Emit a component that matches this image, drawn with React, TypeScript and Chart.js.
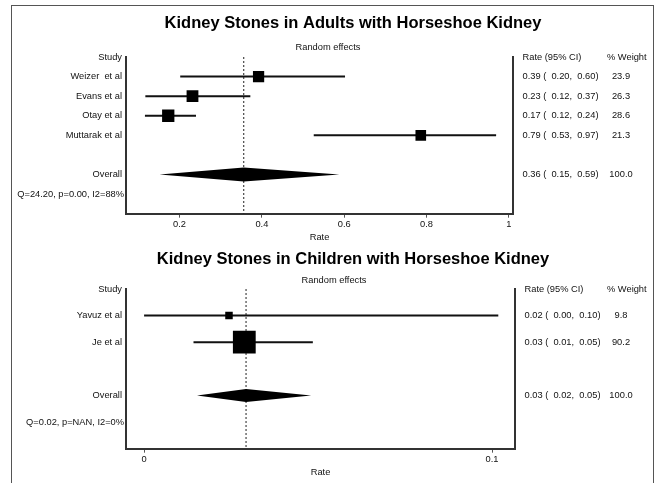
import { useEffect, useRef } from 'react';
import { Chart, registerables } from 'chart.js';

Chart.register(...registerables);

const FONT = "'Liberation Sans', Arial, Helvetica, sans-serif";

// ---- Adults panel data ----
const adultTitle = 'Kidney Stones in Adults with Horseshoe Kidney';
const adultStudies = ['Weizer  et al', 'Evans et al', 'Otay et al', 'Muttarak et al'];
const adultRates = [0.392, 0.2315, 0.1726, 0.786];
const adultLower = [0.2017, 0.117, 0.116, 0.526];
const adultUpper = [0.602, 0.372, 0.24, 0.969];
const adultWeights = [23.9, 26.3, 28.6, 21.3];
const adultOverall = [0.356, 0.1515, 0.588]; // rate, lower, upper
const adultOverallWeight = 100.0;
const adultHet = 'Q=24.20, p=0.00, I2=88%';
const adultTicks = [0.2, 0.4, 0.6, 0.8, 1];

// ---- Children panel data ----
const childTitle = 'Kidney Stones in Children with Horseshoe Kidney';
const childStudies = ['Yavuz et al', 'Je et al'];
const childRates = [0.0244, 0.0288];
const childLower = [0.0, 0.0142];
const childUpper = [0.1018, 0.0485];
const childWeights = [9.8, 90.2];
const childOverall = [0.0293, 0.0152, 0.048];
const childOverallWeight = 100.0;
const childHet = 'Q=0.02, p=NAN, I2=0%';
const childTicks = [0, 0.1];

type Panel = {
  title: string;
  studies: string[];
  rates: number[];
  lower: number[];
  upper: number[];
  weights: number[];
  overall: number[];
  overallWeight: number;
  het: string;
  ticks: number[];
  // layout
  top: number;
  height: number;
  padTop: number;
  padLeft: number;
  padRight: number;
  xMin: number;
  xMax: number;
  titleX: number;
  titleY: number;
  subX: number;
  subY: number;
  sq: number;
  diamondH: number;
  weightX: number;
  weightHeadX: number;
};

const adultPanel: Panel = {
  title: adultTitle,
  studies: adultStudies,
  rates: adultRates,
  lower: adultLower,
  upper: adultUpper,
  weights: adultWeights,
  overall: adultOverall,
  overallWeight: adultOverallWeight,
  het: adultHet,
  ticks: adultTicks,
  top: 0,
  height: 243,
  padTop: 57,
  padLeft: 126,
  padRight: 146,
  xMin: 0.07,
  xMax: 1.01,
  titleX: 353,
  titleY: 23,
  subX: 328,
  subY: 47,
  sq: 2.3,
  diamondH: 7,
  weightX: 621,
  weightHeadX: 607,
};

const childPanel: Panel = {
  title: childTitle,
  studies: childStudies,
  rates: childRates,
  lower: childLower,
  upper: childUpper,
  weights: childWeights,
  overall: childOverall,
  overallWeight: childOverallWeight,
  het: childHet,
  ticks: childTicks,
  top: 244,
  height: 234,
  padTop: 45,
  padLeft: 126,
  padRight: 144,
  xMin: -0.0052,
  xMax: 0.1066,
  titleX: 353,
  titleY: 15,
  subX: 334,
  subY: 36,
  sq: 2.4,
  diamondH: 6.5,
  weightX: 621,
  weightHeadX: 607,
};

const f2 = (v: number) => v.toFixed(2);

function makePlugin(p: Panel) {
  const n = p.studies.length;
  const overallRow = n + 2;
  const hetRow = n + 3;
  return {
    id: 'forest',
    afterDatasetsDraw(chart: any) {
      const { ctx, scales } = chart;
      const x = scales.x;
      const y = scales.y;
      const [est, lo, hi] = p.overall;
      const yc = y.getPixelForValue(overallRow);
      ctx.save();
      ctx.beginPath();
      ctx.moveTo(x.getPixelForValue(lo), yc);
      ctx.lineTo(x.getPixelForValue(est), yc - p.diamondH);
      ctx.lineTo(x.getPixelForValue(hi), yc);
      ctx.lineTo(x.getPixelForValue(est), yc + p.diamondH);
      ctx.closePath();
      ctx.fillStyle = '#000';
      ctx.fill();
      ctx.restore();
    },
    afterDraw(chart: any) {
      const { ctx, chartArea, scales } = chart;
      const y = scales.y;
      ctx.save();
      // titles
      ctx.fillStyle = '#000';
      ctx.textAlign = 'center';
      ctx.textBaseline = 'middle';
      ctx.font = `bold 16.5px ${FONT}`;
      ctx.fillText(p.title, p.titleX, p.titleY);
      ctx.fillStyle = '#111';
      ctx.font = `9.3px ${FONT}`;
      ctx.fillText('Random effects', p.subX, p.subY);

      const labelX = chartArea.left - 4;
      const rateX = chartArea.right + 9.5;
      // left column
      ctx.textAlign = 'right';
      ctx.fillText('Study', labelX, y.getPixelForValue(0));
      p.studies.forEach((s, i) => ctx.fillText(s, labelX, y.getPixelForValue(i + 1)));
      ctx.fillText('Overall', labelX, y.getPixelForValue(overallRow));
      ctx.fillText(p.het, labelX + 2, y.getPixelForValue(hetRow));
      // right columns
      ctx.textAlign = 'left';
      ctx.fillText('Rate (95% CI)', rateX, y.getPixelForValue(0));
      ctx.fillText('% Weight', p.weightHeadX, y.getPixelForValue(0));
      p.studies.forEach((_, i) => {
        const yy = y.getPixelForValue(i + 1);
        ctx.textAlign = 'left';
        ctx.fillText(`${f2(p.rates[i])} (  ${f2(p.lower[i])},  ${f2(p.upper[i])})`, rateX, yy);
        ctx.textAlign = 'center';
        ctx.fillText(p.weights[i].toFixed(1), p.weightX, yy);
      });
      const yo = y.getPixelForValue(overallRow);
      ctx.textAlign = 'left';
      ctx.fillText(`${f2(p.overall[0])} (  ${f2(p.overall[1])},  ${f2(p.overall[2])})`, rateX, yo);
      ctx.textAlign = 'center';
      ctx.fillText(p.overallWeight.toFixed(1), p.weightX, yo);
      ctx.restore();
    },
  };
}

function makeConfig(p: Panel): any {
  const n = p.studies.length;
  const yMax = n + 4;
  const tickFont = { family: FONT, size: 9.3 };
  const radii = p.weights.map((w) => (p.sq * Math.sqrt(w)) / Math.SQRT2);
  return {
    type: 'scatter',
    data: {
      datasets: [
        {
          label: 'Studies',
          data: p.studies.map((_, i) => ({ x: p.rates[i], y: i + 1 })),
          pointStyle: 'rect',
          pointRadius: radii,
          pointHoverRadius: radii,
          backgroundColor: '#000',
          borderWidth: 0,
          showLine: false,
          order: 0,
        },
        ...p.studies.map((s, i) => ({
          label: s,
          data: [
            { x: p.lower[i], y: i + 1 },
            { x: p.upper[i], y: i + 1 },
          ],
          showLine: true,
          borderColor: '#111',
          borderWidth: 2,
          pointRadius: 0,
          order: 1,
        })),
        {
          label: 'Overall',
          data: [
            { x: p.overall[0], y: 0 },
            { x: p.overall[0], y: yMax },
          ],
          showLine: true,
          borderColor: '#222',
          borderWidth: 1,
          borderDash: [2, 2],
          pointRadius: 0,
          order: 2,
        },
      ],
    },
    options: {
      responsive: false,
      maintainAspectRatio: false,
      animation: false,
      events: [],
      layout: { padding: { top: p.padTop, left: p.padLeft, right: p.padRight, bottom: 0 } },
      plugins: { legend: { display: false }, tooltip: { enabled: false }, title: { display: false } },
      scales: {
        x: {
          type: 'linear',
          position: 'bottom',
          min: p.xMin,
          max: p.xMax,
          afterBuildTicks: (s: any) => {
            s.ticks = p.ticks.map((v) => ({ value: v }));
          },
          ticks: {
            font: tickFont,
            color: '#111',
            padding: 1,
            maxRotation: 0,
            autoSkip: false,
            callback: (v: number) => String(v),
          },
          grid: { display: true, drawOnChartArea: false, drawTicks: true, tickLength: 4, color: '#555', lineWidth: 1 },
          border: { display: true, width: 2, color: '#333' },
          title: { display: true, text: 'Rate', font: tickFont, color: '#111', padding: { top: 1, bottom: 0 } },
        },
        y: {
          type: 'linear',
          position: 'left',
          reverse: true,
          min: 0,
          max: yMax,
          ticks: { display: false },
          grid: { display: false, drawTicks: false },
          border: { display: true, width: 2, color: '#333' },
        },
        y2: {
          type: 'linear',
          position: 'right',
          min: 0,
          max: yMax,
          ticks: { display: false },
          grid: { display: false, drawTicks: false },
          border: { display: true, width: 2, color: '#333' },
        },
      },
    },
    plugins: [makePlugin(p)],
  };
}

function ForestPanel({ panel }: { panel: Panel }) {
  const ref = useRef<HTMLCanvasElement>(null);
  useEffect(() => {
    if (!ref.current) return;
    const chart = new Chart(ref.current, makeConfig(panel));
    return () => chart.destroy();
  }, [panel]);
  return (
    <canvas
      ref={ref}
      width={659}
      height={panel.height}
      style={{ position: 'absolute', left: 0, top: panel.top, width: 659, height: panel.height }}
    />
  );
}

export default function App() {
  return (
    <div
      style={{
        position: 'absolute',
        left: 0,
        top: 0,
        width: 659,
        height: 483,
        background: '#fff',
        overflow: 'hidden',
      }}
    >
      <div
        style={{
          position: 'absolute',
          left: 10.5,
          top: 5,
          width: 643,
          height: 520,
          border: '1.5px solid #555',
          boxSizing: 'border-box',
        }}
      />
      <ForestPanel panel={adultPanel} />
      <ForestPanel panel={childPanel} />
    </div>
  );
}
